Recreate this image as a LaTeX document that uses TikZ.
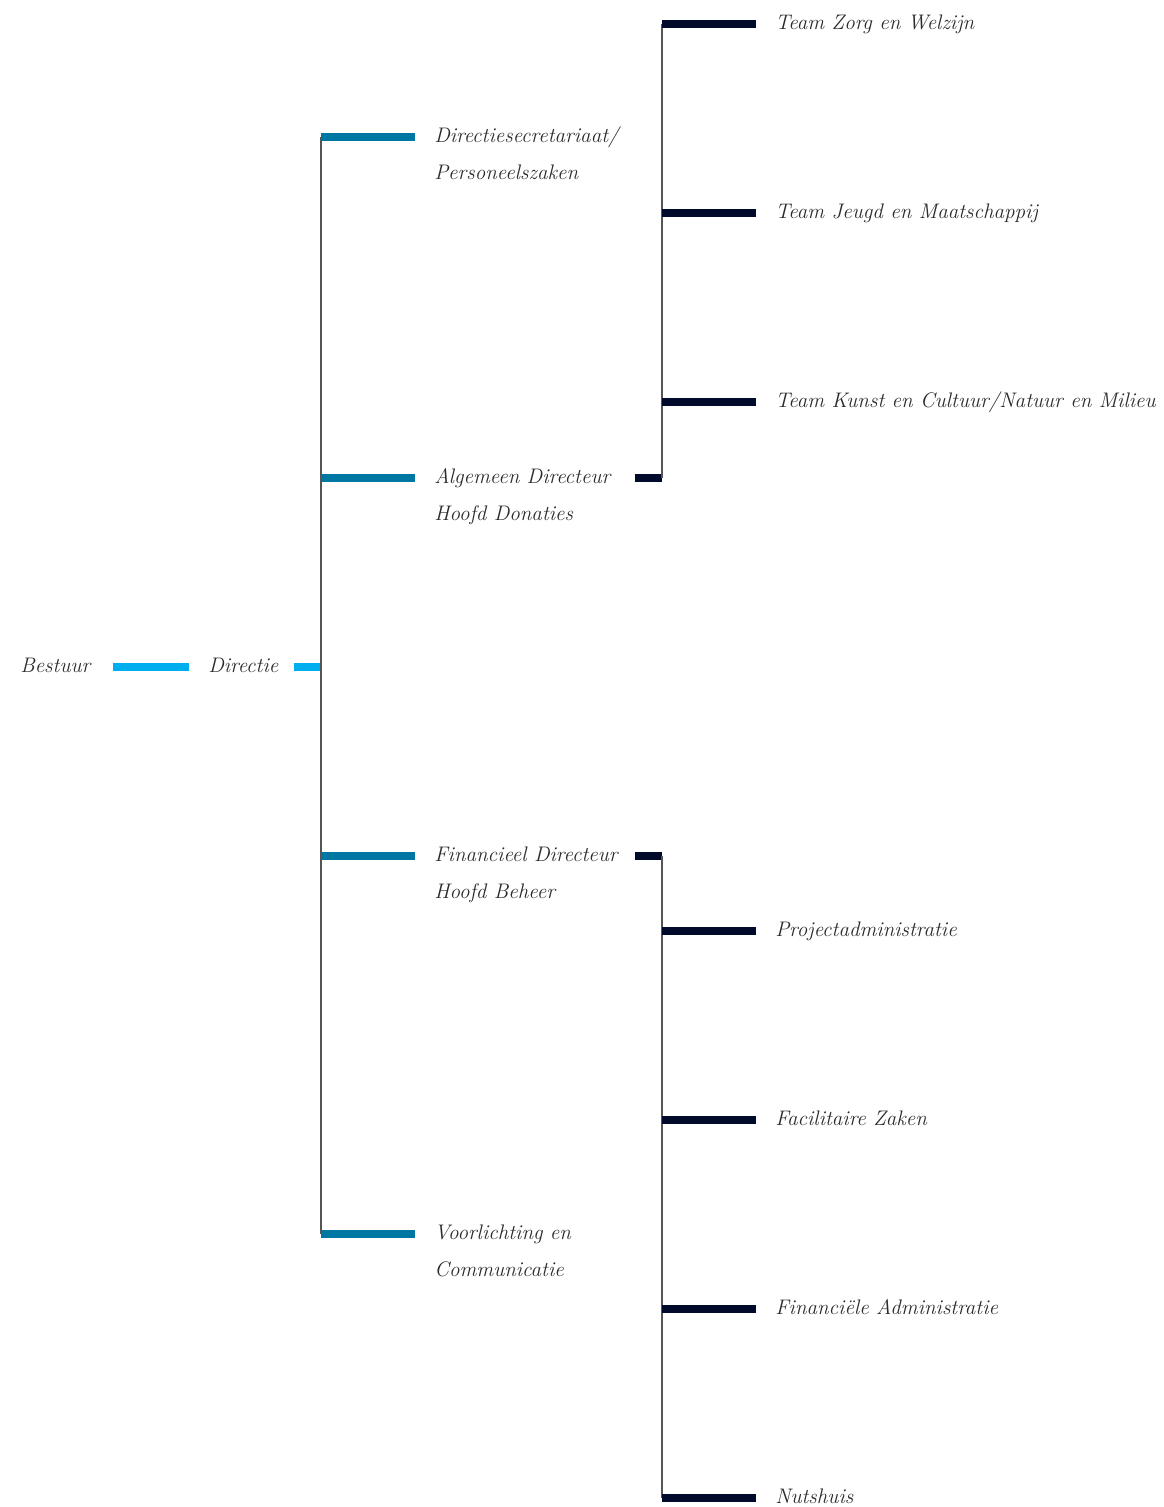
\documentclass[tikz,border=0pt]{standalone}
\usepackage{tikz}
\usetikzlibrary{positioning}
\definecolor{cyanbar}{HTML}{00AEEF}
\definecolor{tealbar}{HTML}{0077A3}
\definecolor{navybar}{HTML}{000A2A}
\definecolor{txtgray}{HTML}{2B2B2B}
\definecolor{linegray}{HTML}{555555}

\begin{document}
\begin{tikzpicture}[x=0.75pt,y=-0.75pt]
\tikzstyle{unit}=[anchor=base west, inner sep=0pt, align=left, text=txtgray, font=\itshape\fontsize{15.8}{27.75}\selectfont]
\tikzstyle{spine}=[draw=linegray, line width=0.8pt]
\tikzstyle{top}=[draw=cyanbar, line width=6pt]
\tikzstyle{mid}=[draw=tealbar, line width=6pt]
\tikzstyle{low}=[draw=navybar, line width=6pt]
\useasboundingbox (0,0) rectangle (1164,1507);
  % spines
  \coordinate (s0) at (321,667);
  \coordinate (s1) at (321,137);
  \coordinate (s2) at (321,478);
  \coordinate (s3) at (321,856);
  \coordinate (s4) at (321,1234);
  \coordinate (ua) at (662,478);
  \coordinate (la) at (662,856);
  \coordinate (u1) at (662,24);
  \coordinate (u2) at (662,213);
  \coordinate (u3) at (662,402);
  \coordinate (l1) at (662,931);
  \coordinate (l2) at (662,1120);
  \coordinate (l3) at (662,1309);
  \coordinate (l4) at (662,1498);
  % top level
  \node[unit] (bestuur) at (20,672) {Bestuur};
  \node[unit] (directie) at (208,672) {Directie};
  % second level (base = last line)
  \node[unit] (dirsec) at (434,179) {Directiesecretariaat/\\Personeelszaken};
  \node[unit] (algdir) at (434,520) {Algemeen Directeur\\Hoofd Donaties};
  \node[unit] (findir) at (434,898) {Financieel Directeur\\Hoofd Beheer};
  \node[unit] (voorl) at (434,1276) {Voorlichting en\\Communicatie};
  % teams
  \node[unit] (zorg) at (775,29) {Team Zorg en Welzijn};
  \node[unit] (jeugd) at (775,218) {Team Jeugd en Maatschappij};
  \node[unit] (kunst) at (775,407) {Team Kunst en Cultuur/Natuur en Milieu};
  \node[unit] (proj) at (775,936) {Projectadministratie};
  \node[unit] (facil) at (775,1125) {Facilitaire Zaken};
  \node[unit] (finadm) at (775,1314) {Financiële Administratie};
  \node[unit] (nuts) at (775,1503) {Nutshuis};
  % connectors
  \draw[top, shorten <=16.5pt, shorten >=14.25pt] (bestuur.east |- s0) -- (directie.west |- s0);
  \draw[top, shorten <=11.25pt] (directie.east |- s0) -- (s0);
  \draw[spine] (s1) -- (s4);
  \foreach \s/\n in {s1/dirsec,s2/algdir,s3/findir,s4/voorl}
    \draw[mid, shorten >=14.25pt] (\s) -- (\s -| \n.west);
  \draw[low, shorten <=18pt] (algdir.east |- ua) -- (ua);
  \draw[low, shorten <=13pt] (findir.east |- la) -- (la);
  \draw[spine] (u1) -- (ua);
  \draw[spine] (la) -- (l4);
  \foreach \s/\n in {u1/zorg,u2/jeugd,u3/kunst,l1/proj,l2/facil,l3/finadm,l4/nuts}
    \draw[low, shorten >=14.25pt] (\s) -- (\s -| \n.west);
\end{tikzpicture}
\end{document}
